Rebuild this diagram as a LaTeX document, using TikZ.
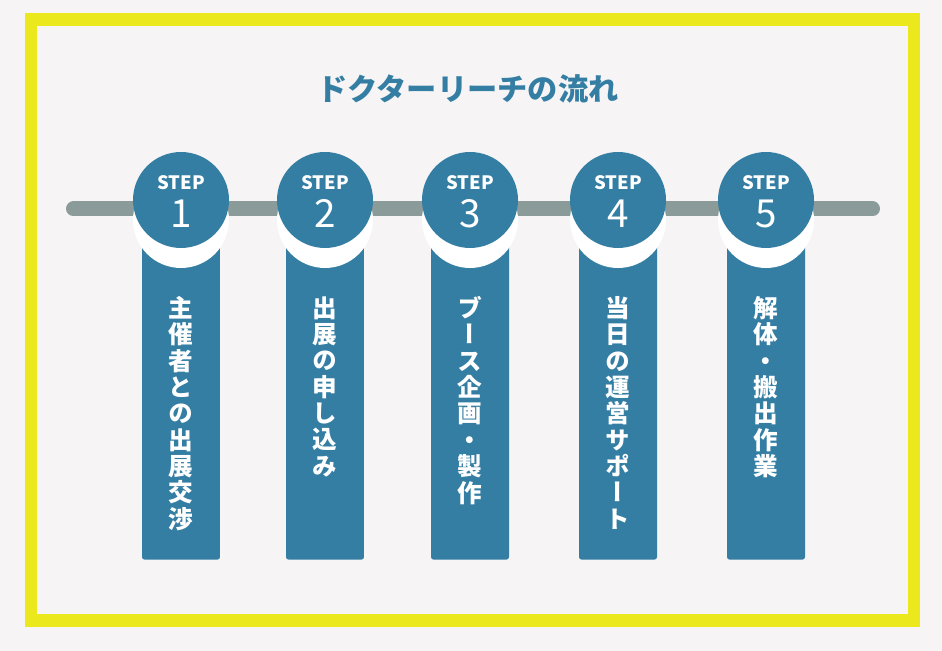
\documentclass[tikz,border=0pt]{standalone}
\usepackage{fontspec}
\setmainfont{Noto Sans CJK JP}
\newfontfamily\tatefont[RawFeature=+vert]{Noto Sans CJK JP}
\usetikzlibrary{positioning}

\definecolor{stepblue}{RGB}{52,126,164}
\definecolor{bargray}{RGB}{139,155,154}
\definecolor{frameyellow}{RGB}{235,232,30}
\definecolor{bggray}{RGB}{246,244,245}

\begin{document}
\begin{tikzpicture}[x=0.02cm, y=-0.02cm,
    stepcol/.style={rectangle, fill=stepblue, minimum width=1.56cm, minimum height=7.2cm,
                    rounded corners=1.5pt, anchor=south, inner sep=0pt},
    stepring/.style={circle, fill=white, minimum size=1.92cm, inner sep=0pt},
    stepcircle/.style={circle, fill=stepblue, minimum size=1.92cm, inner sep=0pt},
    steptag/.style={text=white, font=\bfseries\fontsize{10.5}{11}\selectfont, anchor=base, inner sep=0pt},
    stepnum/.style={text=white, font=\fontsize{22}{22}\selectfont, anchor=base, inner sep=0pt},
    steptext/.style={text=white, font=\tatefont\bfseries\fontsize{14}{15}\selectfont, align=center,
                     anchor=north, inner sep=0pt}]

\fill[bggray] (0,0) rectangle (942,651);
\draw[frameyellow, line width=0.25cm] (31,19.5) rectangle (914,620.5);

\node[text=stepblue, font=\bfseries\fontsize{17.2}{17}\selectfont] (title) at (468,89) {ドクターリーチの流れ};

\coordinate (barL) at (73.5,209);
\coordinate (barR) at (872.5,209);
\draw[bargray, line width=0.3cm, line cap=round] (barL) -- (barR);

\foreach \n/\x/\txt in {1/181/{主\\催\\者\\と\\の\\出\\展\\交\\渉},
                         2/325/{出\\展\\の\\申\\し\\込\\み},
                         3/470/{ブ\\ー\\ス\\企\\画\\・\\製\\作},
                         4/618/{当\\日\\の\\運\\営\\サ\\ポ\\ー\\ト},
                         5/766/{解\\体\\・\\搬\\出\\作\\業}} {
  \node[stepcol] (col\n) at (\x,560) {};
  \node[stepring] (ring\n) at (\x,220) {};
  \node[stepcircle] (step\n) at (\x,200) {};
  \node[steptag] (tag\n) at (\x,190) {STEP};
  \node[stepnum] (num\n) at (\x,228) {\n};
  \node[steptext] (txt\n) at (\x,296) {\txt};
}
\end{tikzpicture}
\end{document}
